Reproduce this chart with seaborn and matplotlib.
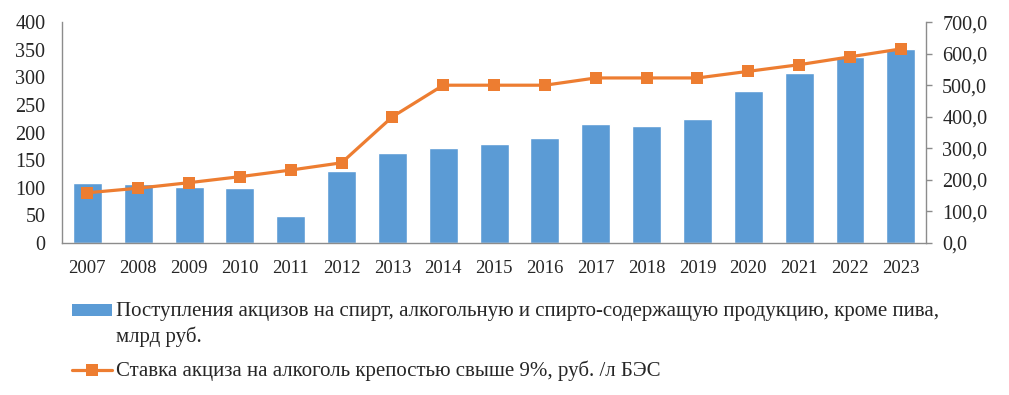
import numpy as np
import pandas as pd
import matplotlib
matplotlib.use("Agg")
import matplotlib.pyplot as plt
import seaborn as sns
from matplotlib.lines import Line2D
from matplotlib.patches import Patch, Rectangle
from matplotlib.legend_handler import HandlerPatch
from matplotlib.ticker import FuncFormatter, MultipleLocator

# data
years = [str(y) for y in range(2007, 2024)]
revenue = [109, 107, 101, 100, 49, 130, 163, 172, 179, 190, 215, 212, 224, 275, 308, 336, 352]
rate = [159, 173.5, 191, 210, 231, 254, 400, 500, 500, 500, 523, 523, 523, 544, 565, 590, 615]

bar_label = ("Поступления акцизов на спирт, алкогольную и спирто-содержащую продукцию, кроме пива,\n"
             "млрд руб.")
line_label = "Ставка акциза на алкоголь крепостью свыше 9%, руб. /л БЭС"

bar_color = "#5B9BD5"
line_color = "#ED7D31"
grey = "#8C8C8C"

df = pd.DataFrame({"year": years, "revenue": revenue, "rate": rate})

sns.set_style("white")
plt.rcParams["font.family"] = ["Liberation Serif", "DejaVu Serif"]
plt.rcParams["font.size"] = 13

fig = plt.figure(figsize=(10.09, 3.95), dpi=100)
ax = fig.add_axes([0.0614, 0.385, 0.8566, 0.559])

sns.barplot(data=df, x="year", y="revenue", color=bar_color, width=0.57,
            saturation=1, ax=ax)
ax.set_ylim(0, 400)
ax.yaxis.set_major_locator(MultipleLocator(50))
ax.set_xlabel("")
ax.set_ylabel("")

ax2 = ax.twinx()
sns.lineplot(x=np.arange(len(years)), y=df["rate"], color=line_color, lw=2.3,
             marker="s", markersize=8.5, markeredgewidth=0, ax=ax2)
ax2.set_ylim(0, 700)
ax2.yaxis.set_major_locator(MultipleLocator(100))
ax2.yaxis.set_major_formatter(FuncFormatter(lambda v, p: f"{v:.1f}".replace(".", ",")))
ax2.set_ylabel("")
ax.set_xlim(-0.5, len(years) - 0.5)

for a in (ax, ax2):
    a.spines["top"].set_visible(False)
    for s in ("left", "right", "bottom"):
        a.spines[s].set_color(grey)
        a.spines[s].set_linewidth(1)
ax.spines["right"].set_visible(False)
ax2.spines["left"].set_visible(False)
ax2.spines["bottom"].set_visible(False)

ax.tick_params(axis="y", length=0, pad=12, labelsize=14.5)
ax.tick_params(axis="x", length=0, pad=12.5, labelsize=13.5)
ax2.tick_params(axis="y", length=4.5, width=1, color=grey, direction="out",
                pad=7, labelsize=14.5)


def top_line_rect(legend, orig_handle, xdescent, ydescent, width, height, fontsize):
    # keep the box level with the first line of a two-line label
    return Rectangle((-xdescent, -ydescent + 0.68 * fontsize), width, height)


handles = [
    Patch(facecolor=bar_color, edgecolor="none"),
    Line2D([0], [0], color=line_color, lw=2.3, marker="s", markersize=8.5,
           markeredgewidth=0),
]
leg = fig.legend(handles, [bar_label, line_label], loc="upper left",
                 bbox_to_anchor=(0.0714, 0.235), frameon=False, fontsize=15,
                 handlelength=1.93, handleheight=0.48, handletextpad=0.2,
                 labelspacing=0.65, borderaxespad=0, borderpad=0,
                 handler_map={Patch: HandlerPatch(patch_func=top_line_rect)})
for t in leg.get_texts():
    t.set_linespacing(1.36)

fig.savefig("out.png", dpi=100)
